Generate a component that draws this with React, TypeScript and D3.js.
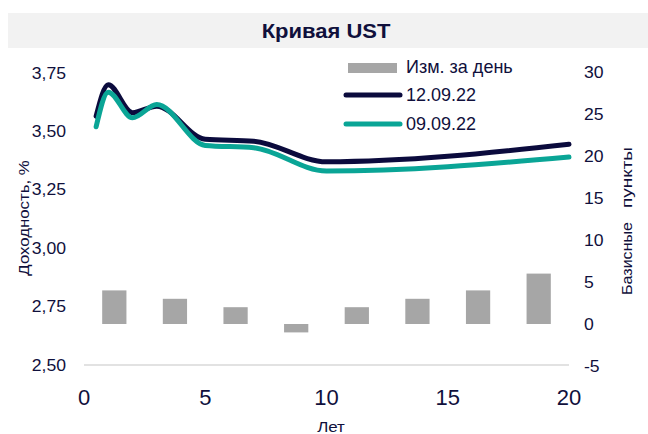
import React from "react";
import * as d3 from "d3";

const tenors = [0.5, 1, 2, 3, 5, 7, 10, 20];
const yield120922 = [3.565, 3.70, 3.58, 3.608, 3.466, 3.458, 3.37, 3.445];
const yield090922 = [3.52, 3.668, 3.558, 3.615, 3.44, 3.43, 3.33, 3.39];
const barCategories = ["6M", "1Y", "2Y", "3Y", "5Y", "7Y", "10Y", "20Y"];
const barValues = [4, 3, 2, -1, 2, 3, 4, 6];
const xTicks = [0, 5, 10, 15, 20];
const leftTicks = [2.5, 2.75, 3.0, 3.25, 3.5, 3.75];
const rightTicks = [-5, 0, 5, 10, 15, 20, 25, 30];

const W = 648;
const H = 434;
const left = 84;
const right = 569;
const top = 73;
const bottom = 365;
const navy = "#0b0b3d";
const teal = "#0aa596";
const textColor = "#10103c";
const font = "'Liberation Sans', Arial, sans-serif";

type TProps = {
  x: number;
  y: number;
  size: number;
  sx?: number;
  rot?: number;
  anchor?: "start" | "middle" | "end";
  weight?: string;
  len?: number;
  children: React.ReactNode;
};

function T({ x, y, size, sx = 1, rot = 0, anchor = "start", weight = "normal", len, children }: TProps) {
  return (
    <text
      transform={`translate(${x},${y}) rotate(${rot}) scale(${sx},1)`}
      textAnchor={anchor}
      fontSize={size}
      fontWeight={weight}
      fill={textColor}
      textLength={len}
      lengthAdjust={len ? "spacingAndGlyphs" : undefined}
    >
      {children}
    </text>
  );
}

export default function App() {
  const x = d3.scaleLinear().domain([0, 20]).range([left, right]);
  const yL = d3.scaleLinear().domain([2.5, 3.75]).range([bottom, top]);
  const yR = d3.scaleLinear().domain([-5, 30]).range([bottom + 1, top - 1]);
  const xb = d3.scaleBand().domain(barCategories).range([left, right]).paddingInner(0.6).paddingOuter(0.3);

  const line = d3
    .line<number>()
    .x((_, i) => x(tenors[i]))
    .y((d) => yL(d))
    .curve(d3.curveMonotoneX);

  const fmt = (v: number) => v.toFixed(2).replace(".", ",");

  return (
    <svg width={W} height={H} style={{ position: "absolute", left: 0, top: 0 }} fontFamily={font}>
      <rect x={0} y={0} width={W} height={H} fill="#ffffff" />
      <rect x={8} y={13} width={640} height={35} fill="#f2f2f2" />
      <T x={326} y={38} size={20} sx={1.1} anchor="middle" weight="bold">
        Кривая UST
      </T>

      <line x1={left} x2={right} y1={yL(2.5)} y2={yL(2.5)} stroke="#d9d9d9" strokeWidth={1.5} />

      {barValues.map((v, i) => (
        <rect
          key={barCategories[i]}
          x={xb(barCategories[i])}
          width={xb.bandwidth()}
          y={Math.min(yR(v), yR(0))}
          height={Math.abs(yR(v) - yR(0))}
          fill="#a6a6a6"
        />
      ))}

      <path d={line(yield120922) || ""} fill="none" stroke={navy} strokeWidth={5} strokeLinecap="round" strokeLinejoin="round" />
      <path d={line(yield090922) || ""} fill="none" stroke={teal} strokeWidth={5} strokeLinecap="round" strokeLinejoin="round" />

      {leftTicks.map((t) => (
        <T key={t} x={66} y={yL(t) + 5.5} size={16} sx={1.1} anchor="end">
          {fmt(t)}
        </T>
      ))}
      {rightTicks.map((t) => (
        <T key={t} x={584} y={yR(t) + 5.5} size={16} sx={1.1}>
          {t}
        </T>
      ))}
      {xTicks.map((t) => (
        <T key={t} x={x(t)} y={405} size={22} anchor="middle">
          {t}
        </T>
      ))}
      <T x={331} y={432} size={15} sx={1.13} anchor="middle">
        Лет
      </T>
      <T x={29} y={218} size={15} sx={1.12} rot={-90} anchor="middle">
        Доходность, %
      </T>
      <T x={632} y={295} size={15} rot={-90} anchor="start" len={73}>
        Базисные
      </T>
      <T x={632} y={208} size={15} rot={-90} anchor="start" len={61}>
        пункты
      </T>

      <rect x={348} y={63} width={49} height={10} fill="#a6a6a6" />
      <T x={406} y={73} size={17.5} sx={1.03}>Изм. за день</T>
      <line x1={346} x2={400} y1={95} y2={95} stroke={navy} strokeWidth={5} strokeLinecap="round" />
      <T x={406} y={101} size={17.5} sx={1.03}>12.09.22</T>
      <line x1={346} x2={400} y1={124} y2={124} stroke={teal} strokeWidth={5} strokeLinecap="round" />
      <T x={406} y={130} size={17.5} sx={1.03}>09.09.22</T>
    </svg>
  );
}
